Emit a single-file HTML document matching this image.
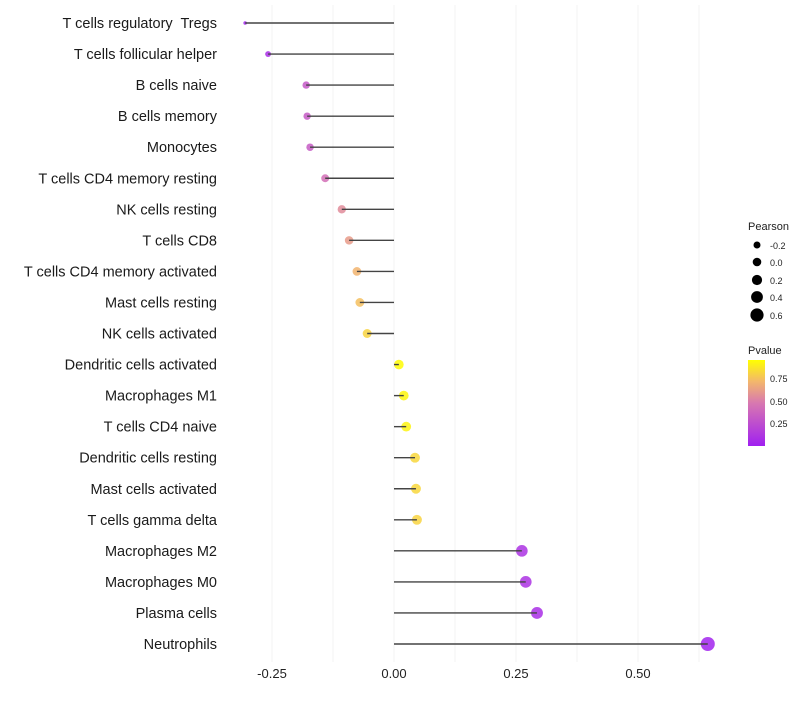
<!DOCTYPE html>
<html><head><meta charset="utf-8"><style>
body{margin:0;background:#fff;font-family:"Liberation Sans",Arial,sans-serif}
svg text{font-family:"Liberation Sans",Arial,sans-serif;white-space:pre}
</style></head><body>
<svg id="chart" width="800" height="700">
<defs><linearGradient id="pg" x1="0" y1="1" x2="0" y2="0">
<stop offset="0" stop-color="#A020F0"/><stop offset="0.5" stop-color="#D878B0"/><stop offset="0.75" stop-color="#F3B76C"/><stop offset="1" stop-color="#FFFF00"/></linearGradient></defs>
<g id="grid"></g>
<g id="marks"></g>
<g id="labels"></g>
<g id="xt"></g>
<g>
<text x="748" y="230" font-size="11" fill="#222">Pearson</text>
<circle cx="757" cy="245" r="3.5" fill="#000"/><text x="770" y="249" font-size="9" fill="#222">-0.2</text>
<circle cx="757" cy="262" r="4.3" fill="#000"/><text x="770" y="266" font-size="9" fill="#222">0.0</text>
<circle cx="757" cy="280" r="5.1" fill="#000"/><text x="770" y="284" font-size="9" fill="#222">0.2</text>
<circle cx="757" cy="297" r="5.9" fill="#000"/><text x="770" y="301" font-size="9" fill="#222">0.4</text>
<circle cx="757" cy="315" r="6.6" fill="#000"/><text x="770" y="319" font-size="9" fill="#222">0.6</text>
</g>
<g>
<text x="748" y="354" font-size="11" fill="#222">Pvalue</text>
<rect x="748" y="360" width="17" height="86" fill="url(#pg)"/>
<text x="770" y="382" font-size="9" fill="#222">0.75</text>
<text x="770" y="405" font-size="9" fill="#222">0.50</text>
<text x="770" y="427" font-size="9" fill="#222">0.25</text>
</g>
</svg>
<script>
const categories=["T cells regulatory  Tregs","T cells follicular helper","B cells naive","B cells memory","Monocytes","T cells CD4 memory resting","NK cells resting","T cells CD8","T cells CD4 memory activated","Mast cells resting","NK cells activated","Dendritic cells activated","Macrophages M1","T cells CD4 naive","Dendritic cells resting","Mast cells activated","T cells gamma delta","Macrophages M2","Macrophages M0","Plasma cells","Neutrophils"];
const pearson=[-0.305,-0.258,-0.18,-0.178,-0.172,-0.141,-0.107,-0.092,-0.076,-0.07,-0.055,0.01,0.02,0.025,0.043,0.045,0.047,0.262,0.27,0.293,0.643];
const pvalue=[0.02,0.08,0.32,0.33,0.34,0.45,0.58,0.64,0.74,0.78,0.85,0.99,0.97,0.96,0.86,0.86,0.85,0.1,0.1,0.08,0.02];
const xTicks=[-0.25,0,0.25,0.5];
const xTickLabels=["-0.25","0.00","0.25","0.50"];
const NS="http://www.w3.org/2000/svg";
const x=v=>394+488*v;
const y=i=>23+i*31.05;
const mn=Math.min(...pearson),mx=Math.max(...pearson);
const rad=v=>1.8+5.2*Math.sqrt((v-mn)/(mx-mn));
function lerp(a,b,t){return a.map((c,k)=>Math.round(c+(b[k]-c)*t));}
function col(p){const s=[[0,[160,32,240]],[0.5,[216,120,176]],[0.75,[243,183,108]],[1,[255,255,0]]];
for(let k=1;k<s.length;k++){if(p<=s[k][0]){const t=(p-s[k-1][0])/(s[k][0]-s[k-1][0]);const c=lerp(s[k-1][1],s[k][1],t);return `rgb(${c})`;}}return 'rgb(255,255,0)';}
function mk(t,a,p){const e=document.createElementNS(NS,t);for(const k in a)e.setAttribute(k,a[k]);p.appendChild(e);return e;}
const grid=document.getElementById('grid'),marks=document.getElementById('marks'),labels=document.getElementById('labels'),xt=document.getElementById('xt');
for(let v=-0.375;v<=0.7;v+=0.125){const xx=x(v);if(xx<226||xx>730)continue;const g=mk('line',{x1:xx,x2:xx,y1:5,y2:662,stroke:'#f3f3f3','stroke-width':1},grid);

}
categories.forEach((c,i)=>{
const d=mk('circle',{cx:x(pearson[i]),cy:y(i),r:rad(pearson[i]),fill:col(pvalue[i]),'fill-opacity':0.85},marks);


const l=mk('line',{x1:x(0),x2:x(pearson[i]),y1:y(i),y2:y(i),stroke:'#444','stroke-width':1.4},marks);


const t=mk('text',{x:217,y:y(i)+5,'text-anchor':'end','font-size':14.5,fill:'#1a1a1a'},labels);t.textContent=c;


});
xTicks.forEach((v,i)=>{const t=mk('text',{x:x(v),y:678,'text-anchor':'middle','font-size':13,fill:'#222'},xt);t.textContent=xTickLabels[i];

});
</script>
</body></html>
